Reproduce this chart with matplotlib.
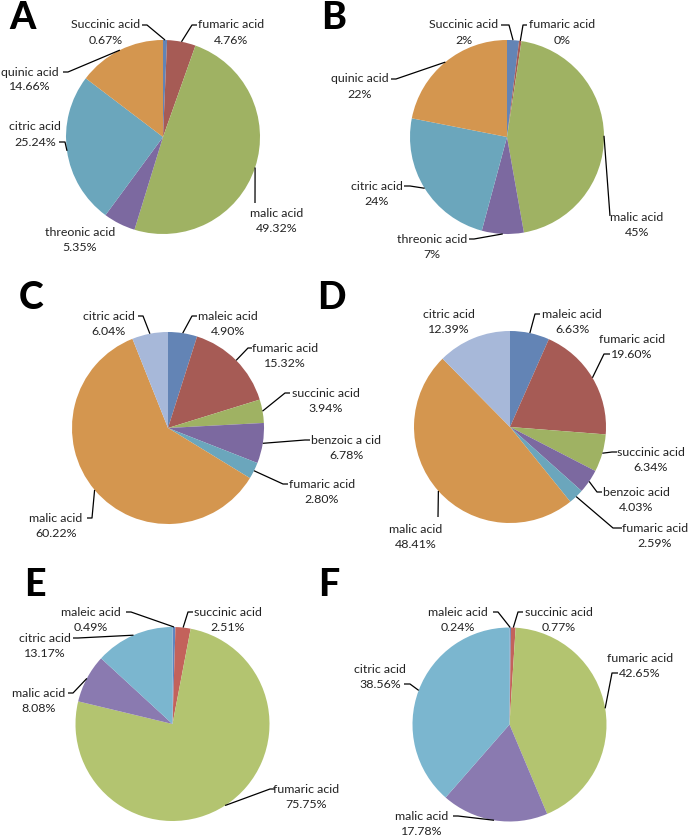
import matplotlib
matplotlib.use("Agg")
import matplotlib.pyplot as plt
import numpy as np

W, H = 689, 838
FONT = ["Lato", "DejaVu Sans"]

# ---------------- data ----------------
a_names = ["Succinic acid", "fumaric acid", "malic acid", "threonic acid", "citric acid", "quinic acid"]
a_values = [0.67, 4.76, 49.32, 5.35, 25.24, 14.66]
a_pcts = ["0.67%", "4.76%", "49.32%", "5.35%", "25.24%", "14.66%"]

b_names = ["Succinic acid", "fumaric acid", "malic acid", "threonic acid", "citric acid", "quinic acid"]
b_values = [2, 0.4, 45, 7, 24, 22]
b_pcts = ["2%", "0%", "45%", "7%", "24%", "22%"]

c_names = ["maleic acid", "fumaric acid", "succinic acid", "benzoic a cid", "fumaric acid", "malic acid", "citric acid"]
c_values = [4.90, 15.32, 3.94, 6.78, 2.80, 60.22, 6.04]
c_pcts = ["4.90%", "15.32%", "3.94%", "6.78%", "2.80%", "60.22%", "6.04%"]

d_names = ["maleic acid", "fumaric acid", "succinic acid", "benzoic acid", "fumaric acid", "malic acid", "citric acid"]
d_values = [6.63, 19.60, 6.34, 4.03, 2.59, 48.41, 12.39]
d_pcts = ["6.63%", "19.60%", "6.34%", "4.03%", "2.59%", "48.41%", "12.39%"]

e_names = ["maleic acid", "succinic acid", "fumaric acid", "malic acid", "citric acid"]
e_values = [0.49, 2.51, 75.75, 8.08, 13.17]
e_pcts = ["0.49%", "2.51%", "75.75%", "8.08%", "13.17%"]

f_names = ["maleic acid", "succinic acid", "fumaric acid", "malic acid", "citric acid"]
f_values = [0.24, 0.77, 42.65, 17.78, 38.56]
f_pcts = ["0.24%", "0.77%", "42.65%", "17.78%", "38.56%"]

panel_letters = ["A", "B", "C", "D", "E", "F"]

# ---------------- styling / layout ----------------
BLUE, RED, GREEN, PURPLE, TEAL, ORANGE, LBLUE = "#6384b5", "#a65b55", "#9fb263", "#7c69a0", "#6ba6bc", "#d4964f", "#a7b8d9"
E_BLUE, E_RED, E_GREEN, E_PURPLE, E_AQUA = "#5f85c0", "#c3625b", "#b3c470", "#8a7ab0", "#7bb6cf"

panels = [
    dict(names=a_names, values=a_values, pcts=a_pcts, center=(163, 137), r=97,
         colors=[BLUE, RED, GREEN, PURPLE, TEAL, ORANGE],
         text=[(106, 25), (231, 25), (277, 213), (80, 232), (35, 127), (30, 72)],
         lead=[[(142, 25), (147, 25)], [(197, 25), (192, 25)], [(255, 203)], None,
               [(59, 142), (65, 142)], [(63, 72), (68, 72)]],
         letter=(23, 18)),
    dict(names=b_names, values=b_values, pcts=b_pcts, center=(507, 137), r=97,
         colors=[BLUE, RED, GREEN, PURPLE, TEAL, ORANGE],
         text=[(464, 25), (562, 25), (637, 217), (432, 239), (377, 186), (360, 79)],
         lead=[[(501, 25), (509, 25)], [(527, 25), (523, 25)], [(610, 216)],
               [(469, 239), (474, 239)], [(404, 186), (410, 186)], [(391, 79), (396, 79)]],
         letter=(334, 18)),
    dict(names=c_names, values=c_values, pcts=c_pcts, center=(168, 428), r=96,
         colors=[BLUE, RED, GREEN, PURPLE, TEAL, ORANGE, LBLUE],
         text=[(228, 316), (285, 348), (326, 393), (346, 440), (322, 484), (56, 518), (109, 316)],
         lead=[[(197, 316), (192, 316)], [(252, 348), (248, 348)], [(290, 393), (285, 393)],
               [(310, 440), (305, 440)], [(288, 484), (283, 484)], [(87, 518), (92, 518)],
               [(138, 316), (143, 316)]],
         letter=(31, 298)),
    dict(names=d_names, values=d_values, pcts=d_pcts, center=(510, 427), r=96,
         colors=[BLUE, RED, GREEN, PURPLE, TEAL, ORANGE, LBLUE],
         text=[(572, 314), (632, 339), (651, 452), (636, 492), (655, 528), (416, 529), (449, 314)],
         lead=[[(540, 314), (535, 314)], [(610, 354), (604, 354)], [(617, 452), (612, 452)],
               [(602, 492), (597, 492)], [(622, 528), (613, 528)], [(438, 517)], None],
         letter=(331, 298)),
    dict(names=e_names, values=e_values, pcts=e_pcts, center=(172.5, 724), r=97,
         colors=[E_BLUE, E_RED, E_GREEN, E_PURPLE, E_AQUA],
         text=[(91, 612), (228, 612), (306, 789), (39, 693), (45, 638)],
         lead=[[(126, 612), (131, 612)], [(193, 612), (188, 612)], [(275, 789), (270, 789)],
               [(68, 693), (73, 693)], [(73, 638), (78, 638)]],
         letter=(35, 585)),
    dict(names=f_names, values=f_values, pcts=f_pcts, center=(509.5, 724.5), r=97,
         colors=[E_BLUE, E_RED, E_GREEN, E_PURPLE, E_AQUA],
         text=[(458, 612), (559, 612), (640, 658), (422, 816), (380, 669)],
         lead=[[(493, 612), (498, 612)], [(523, 612), (518, 612)], [(618, 673), (612, 673)],
               [(453, 816), (458, 816)], [(404, 684), (410, 684)]],
         letter=(329, 585)),
]

LINE_GAP = 15
FS = 8.9

fig = plt.figure(figsize=(W / 100, H / 100), dpi=100)
ax = fig.add_axes([0, 0, 1, 1])

for p, letter in zip(panels, panel_letters):
    vals = np.asarray(p["values"], dtype=float)
    cx, cy = p["center"]
    r = p["r"]
    # y axis is inverted (pixel coords), so counterclock=True & startangle=-90
    # gives clockwise drawing from 12 o'clock on screen, like Excel.
    ax.pie(vals, colors=p["colors"], center=(cx, cy), radius=r,
           startangle=-90, counterclock=True,
           wedgeprops=dict(linewidth=0), frame=True)
    frac = vals / vals.sum()
    mids = np.cumsum(frac) - frac / 2
    for i, (name, pct) in enumerate(zip(p["names"], p["pcts"])):
        tx, ty = p["text"][i]
        ax.text(tx, ty, name, ha="center", va="center", fontsize=FS,
                family=FONT, color="#222222")
        ax.text(tx, ty + LINE_GAP, pct, ha="center", va="center", fontsize=FS,
                family=FONT, color="#222222")
        if p["lead"][i] is not None:
            phi = 2 * np.pi * mids[i]
            wx = cx + r * np.sin(phi)
            wy = cy - r * np.cos(phi)
            pts = list(p["lead"][i]) + [(wx, wy)]
            xs, ys = zip(*pts)
            ax.plot(xs, ys, color="black", lw=0.9, solid_capstyle="butt")
    lx, ly = p["letter"]
    ax.text(lx, ly, letter, ha="center", va="center", fontsize=27,
            fontweight="black", family=FONT, color="black")

ax.set_xlim(0, W)
ax.set_ylim(H, 0)
ax.set_aspect("auto")
ax.axis("off")

fig.savefig("out.png", dpi=100, facecolor="white")
